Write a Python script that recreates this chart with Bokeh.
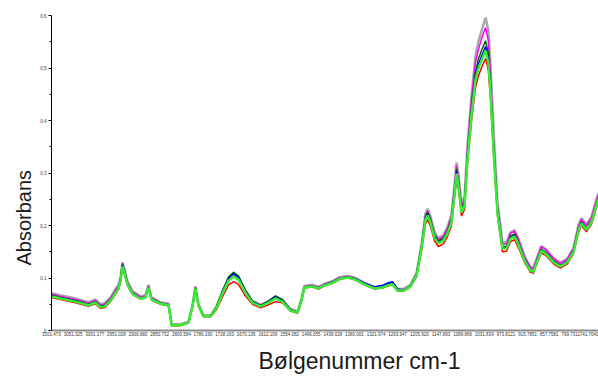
from bokeh.plotting import figure
from bokeh.models import Range1d, FixedTicker, CustomJSTickFormatter, Title
from bokeh.embed import file_html
from bokeh.resources import INLINE

# x positions in tick-label units (0 = first wavenumber label)
x = [0.00, 0.42, 1.11, 1.71, 1.89, 2.03, 2.26, 2.45, 2.73, 2.96,
     3.10, 3.19, 3.28, 3.37, 3.51, 3.74, 4.11, 4.34, 4.48, 4.62,
     5.04, 5.41, 5.55, 5.96, 6.33, 6.52, 6.65, 6.79, 7.02, 7.35,
     7.62, 7.90, 8.18, 8.41, 8.64, 8.96, 9.29, 9.66, 10.03, 10.35,
     10.67, 11.04, 11.37, 11.55, 11.69, 12.06, 12.34, 12.62, 12.99, 13.35,
     13.72, 14.05, 14.46, 14.93, 15.30, 15.57, 15.76, 15.99, 16.27, 16.59,
     16.87, 17.10, 17.28, 17.38, 17.51, 17.70, 17.88, 18.11, 18.30, 18.48,
     18.62, 18.72, 18.81, 18.95, 19.09, 19.22, 19.41, 19.59, 19.73, 19.87,
     20.06, 20.19, 20.29, 20.43, 20.61, 20.84, 21.03, 21.21, 21.40, 21.58,
     21.86, 22.13, 22.27, 22.46, 22.64, 22.87, 23.20, 23.52, 23.84, 24.12,
     24.35, 24.49, 24.72, 24.95, 25.14, 25.28]

s_grey = [0.071, 0.067, 0.061, 0.054, 0.057, 0.059, 0.050, 0.052, 0.063, 0.079,
          0.087, 0.102, 0.130, 0.117, 0.094, 0.075, 0.065, 0.067, 0.087, 0.063,
          0.054, 0.051, 0.012, 0.012, 0.017, 0.049, 0.084, 0.051, 0.029, 0.029,
          0.045, 0.074, 0.099, 0.107, 0.101, 0.076, 0.056, 0.049, 0.056, 0.064,
          0.058, 0.041, 0.036, 0.060, 0.085, 0.087, 0.083, 0.089, 0.094, 0.102,
          0.104, 0.100, 0.091, 0.083, 0.085, 0.089, 0.091, 0.079, 0.079, 0.087,
          0.110, 0.164, 0.222, 0.232, 0.218, 0.188, 0.176, 0.182, 0.197, 0.220,
          0.275, 0.320, 0.296, 0.242, 0.256, 0.350, 0.445, 0.522, 0.550, 0.570,
          0.596, 0.572, 0.505, 0.380, 0.245, 0.168, 0.167, 0.187, 0.191, 0.175,
          0.142, 0.121, 0.119, 0.141, 0.161, 0.154, 0.138, 0.129, 0.137, 0.157,
          0.200, 0.214, 0.202, 0.216, 0.243, 0.262]

s_magenta = [0.069, 0.065, 0.059, 0.052, 0.055, 0.057, 0.048, 0.050, 0.061, 0.077,
             0.085, 0.100, 0.128, 0.115, 0.092, 0.073, 0.064, 0.066, 0.085, 0.062,
             0.053, 0.050, 0.011, 0.011, 0.016, 0.048, 0.083, 0.050, 0.028, 0.028,
             0.044, 0.072, 0.097, 0.105, 0.099, 0.074, 0.055, 0.048, 0.055, 0.063,
             0.057, 0.040, 0.035, 0.059, 0.084, 0.086, 0.082, 0.088, 0.093, 0.101,
             0.103, 0.099, 0.090, 0.082, 0.084, 0.088, 0.090, 0.078, 0.078, 0.086,
             0.108, 0.161, 0.218, 0.228, 0.214, 0.184, 0.173, 0.179, 0.194, 0.216,
             0.270, 0.314, 0.290, 0.237, 0.251, 0.345, 0.440, 0.510, 0.535, 0.555,
             0.577, 0.552, 0.490, 0.368, 0.240, 0.165, 0.165, 0.185, 0.189, 0.173,
             0.140, 0.120, 0.118, 0.140, 0.160, 0.153, 0.137, 0.128, 0.136, 0.156,
             0.198, 0.212, 0.200, 0.214, 0.241, 0.260]

s_darkgreen = [0.067, 0.063, 0.057, 0.050, 0.053, 0.055, 0.046, 0.048, 0.059, 0.074,
               0.082, 0.098, 0.126, 0.113, 0.090, 0.071, 0.062, 0.064, 0.083, 0.060,
               0.052, 0.049, 0.010, 0.010, 0.015, 0.047, 0.081, 0.049, 0.027, 0.027,
               0.045, 0.075, 0.102, 0.111, 0.104, 0.077, 0.056, 0.048, 0.056, 0.066,
               0.059, 0.040, 0.035, 0.058, 0.083, 0.085, 0.081, 0.087, 0.092, 0.100,
               0.102, 0.098, 0.089, 0.081, 0.083, 0.088, 0.091, 0.078, 0.077, 0.085,
               0.107, 0.160, 0.216, 0.225, 0.212, 0.182, 0.170, 0.176, 0.190, 0.212,
               0.265, 0.308, 0.284, 0.232, 0.246, 0.335, 0.425, 0.492, 0.517, 0.533,
               0.552, 0.528, 0.468, 0.354, 0.232, 0.160, 0.160, 0.180, 0.184, 0.168,
               0.136, 0.116, 0.114, 0.136, 0.155, 0.148, 0.133, 0.124, 0.132, 0.151,
               0.193, 0.207, 0.195, 0.209, 0.235, 0.254]

s_blue = [0.066, 0.062, 0.056, 0.049, 0.052, 0.054, 0.045, 0.047, 0.058, 0.073,
          0.081, 0.097, 0.124, 0.112, 0.089, 0.071, 0.062, 0.063, 0.082, 0.059,
          0.051, 0.048, 0.010, 0.010, 0.015, 0.046, 0.080, 0.048, 0.027, 0.027,
          0.043, 0.073, 0.099, 0.108, 0.101, 0.075, 0.055, 0.047, 0.055, 0.064,
          0.057, 0.039, 0.034, 0.057, 0.082, 0.084, 0.081, 0.087, 0.093, 0.100,
          0.102, 0.098, 0.090, 0.083, 0.086, 0.091, 0.093, 0.079, 0.077, 0.085,
          0.106, 0.158, 0.213, 0.222, 0.209, 0.179, 0.168, 0.173, 0.187, 0.209,
          0.261, 0.303, 0.280, 0.228, 0.241, 0.329, 0.416, 0.483, 0.507, 0.522,
          0.541, 0.517, 0.459, 0.348, 0.228, 0.158, 0.158, 0.177, 0.181, 0.166,
          0.135, 0.115, 0.113, 0.134, 0.153, 0.146, 0.131, 0.123, 0.131, 0.150,
          0.191, 0.205, 0.193, 0.207, 0.233, 0.252]

s_red = [0.063, 0.059, 0.053, 0.046, 0.049, 0.051, 0.042, 0.044, 0.055, 0.070,
         0.078, 0.092, 0.118, 0.107, 0.086, 0.069, 0.060, 0.062, 0.080, 0.058,
         0.050, 0.047, 0.009, 0.009, 0.014, 0.045, 0.078, 0.047, 0.026, 0.026,
         0.039, 0.064, 0.087, 0.093, 0.088, 0.066, 0.050, 0.043, 0.049, 0.055,
         0.053, 0.037, 0.033, 0.056, 0.081, 0.083, 0.079, 0.085, 0.090, 0.098,
         0.100, 0.096, 0.087, 0.079, 0.081, 0.085, 0.087, 0.075, 0.075, 0.083,
         0.102, 0.151, 0.203, 0.211, 0.199, 0.171, 0.160, 0.165, 0.179, 0.199,
         0.249, 0.290, 0.268, 0.218, 0.231, 0.315, 0.398, 0.462, 0.485, 0.500,
         0.518, 0.496, 0.440, 0.334, 0.219, 0.150, 0.151, 0.169, 0.173, 0.158,
         0.130, 0.111, 0.109, 0.130, 0.148, 0.142, 0.127, 0.119, 0.127, 0.146,
         0.186, 0.200, 0.188, 0.202, 0.228, 0.247]

s_green = [0.065, 0.061, 0.055, 0.048, 0.051, 0.053, 0.044, 0.046, 0.057, 0.072,
           0.080, 0.095, 0.122, 0.110, 0.088, 0.070, 0.061, 0.063, 0.082, 0.059,
           0.051, 0.048, 0.010, 0.010, 0.015, 0.046, 0.080, 0.048, 0.027, 0.027,
           0.042, 0.070, 0.095, 0.103, 0.097, 0.072, 0.053, 0.046, 0.053, 0.061,
           0.055, 0.038, 0.034, 0.057, 0.082, 0.084, 0.080, 0.086, 0.091, 0.099,
           0.101, 0.097, 0.088, 0.080, 0.082, 0.086, 0.088, 0.076, 0.076, 0.084,
           0.105, 0.156, 0.210, 0.219, 0.206, 0.177, 0.166, 0.171, 0.185, 0.206,
           0.257, 0.299, 0.276, 0.225, 0.238, 0.324, 0.410, 0.476, 0.499, 0.514,
           0.533, 0.510, 0.453, 0.343, 0.225, 0.156, 0.156, 0.175, 0.179, 0.164,
           0.133, 0.114, 0.112, 0.133, 0.152, 0.145, 0.130, 0.122, 0.130, 0.149,
           0.190, 0.204, 0.192, 0.206, 0.232, 0.251]

x_tick_labels = ["3101.470", "3051.325", "3001.177", "2951.028", "2900.880",
                 "2850.732", "2800.584", "1786.190", "1728.163", "1670.136",
                 "1612.109", "1554.082", "1496.055", "1438.028", "1380.001",
                 "1321.974", "1263.947", "1205.920", "1147.893", "1089.866",
                 "1031.839", "973.8121", "915.7851", "857.7581", "799.7311",
                 "741.7041"]
y_ticks = [0, 0.1, 0.2, 0.3, 0.4, 0.5, 0.6]

series = [
    (s_grey, "#a8a8a8", 2.5),
    (s_magenta, "#ff00ff", 1.5),
    (s_darkgreen, "#006400", 1.5),
    (s_blue, "#0000ff", 1.5),
    (s_red, "#ff0000", 1.5),
    (s_green, "#33ee33", 2.5),
]

p = figure(width=598, height=380, output_backend="svg", toolbar_location=None,
           x_range=Range1d(0, 25.28), y_range=Range1d(0, 0.6),
           min_border_left=51, min_border_right=0, min_border_top=15,
           min_border_bottom=50)
p.outline_line_color = None
p.xgrid.visible = False
p.ygrid.visible = False
p.background_fill_color = "white"
p.border_fill_color = "white"

for ys, col, w in series:
    p.line(x, ys, line_color=col, line_width=w)

xa = p.xaxis[0]
xa.ticker = FixedTicker(ticks=list(range(len(x_tick_labels))))
xa.formatter = CustomJSTickFormatter(args=dict(labels=x_tick_labels),
                                     code="return labels[Math.round(tick)] || '';")
xa.axis_line_color = "#8c8c8c"
xa.axis_line_width = 2
xa.major_tick_line_color = None
xa.minor_tick_line_color = None
xa.major_tick_out = 0
xa.major_tick_in = 0
xa.minor_tick_out = 0
xa.major_label_text_font = "Liberation Sans"
xa.major_label_text_font_size = "4.5px"
xa.major_label_text_color = "#333333"
xa.major_label_standoff = 1

ya = p.yaxis[0]
ya.ticker = FixedTicker(ticks=y_ticks, minor_ticks=[0.05, 0.15, 0.25, 0.35, 0.45, 0.55])
ya.formatter = CustomJSTickFormatter(code="return tick == 0 ? '0' : tick.toFixed(1).replace('.', ',');")
ya.axis_line_color = "black"
ya.axis_line_width = 1
ya.major_tick_line_color = "black"
ya.major_tick_out = 3
ya.major_tick_in = 0
ya.minor_tick_line_color = "black"
ya.minor_tick_out = 2
ya.minor_tick_in = 0
ya.major_label_text_font = "Liberation Sans"
ya.major_label_text_font_size = "4.5px"
ya.major_label_text_color = "#333333"
ya.major_label_standoff = 2

tl = Title(text="Absorbans", align="left", offset=65, standoff=5,
           text_font="Liberation Sans", text_font_size="20px",
           text_font_style="normal", text_color="#1a1a1a")
p.add_layout(tl, "left")

tb = Title(text="Bølgenummer cm-1", align="left", offset=207, standoff=14,
           text_font="Liberation Sans", text_font_size="23px",
           text_font_style="normal", text_color="#1a1a1a",
           text_line_height=1.0)
p.add_layout(tb, "below")

open("out.html", "w").write(file_html(p, INLINE))
